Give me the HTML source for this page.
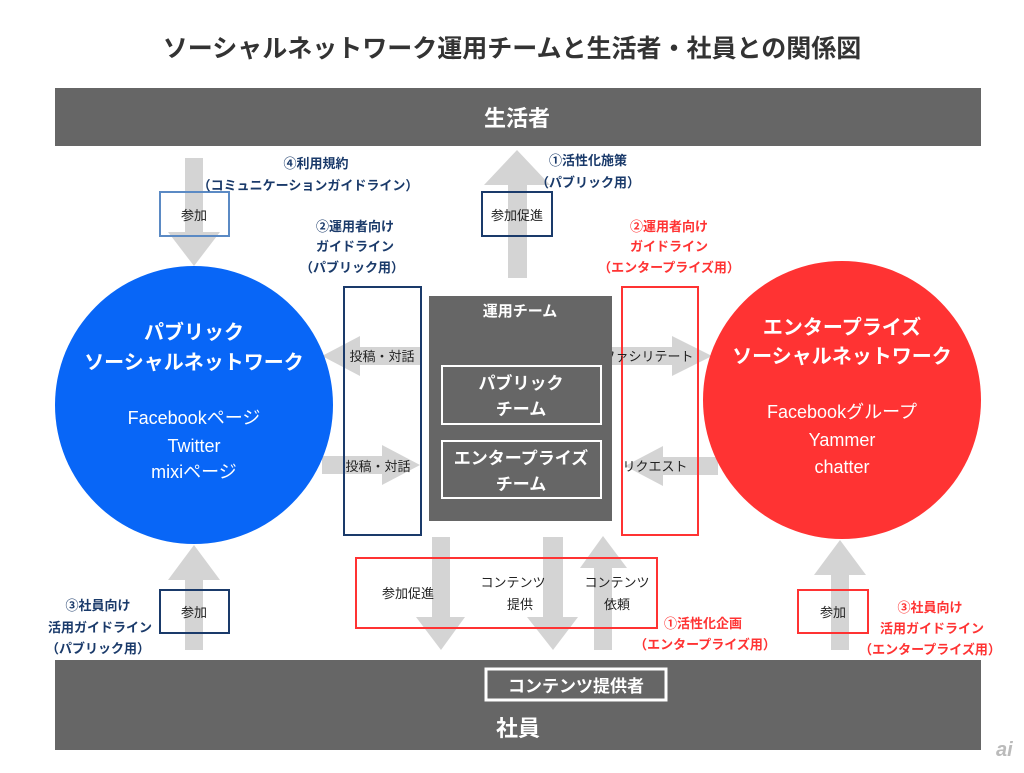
<!DOCTYPE html>
<html><head><meta charset="utf-8"><style>
html,body{margin:0;padding:0;background:#fff;}
svg text{font-family:"Liberation Sans","Noto Sans CJK JP",sans-serif;}
</style></head><body>
<svg width="1024" height="768" viewBox="0 0 1024 768" xmlns="http://www.w3.org/2000/svg">
<rect width="1024" height="768" fill="#fff"/>
<text x="512" y="57" font-size="25" font-weight="bold" fill="#333" text-anchor="middle">ソーシャルネットワーク運用チームと生活者・社員との関係図</text>
<rect x="55" y="88" width="926" height="58" fill="#666"/>
<text x="517" y="126" font-size="22" font-weight="bold" fill="#fff" text-anchor="middle">生活者</text>
<rect x="55" y="660" width="926" height="90" fill="#666"/>
<text x="518" y="736" font-size="22" font-weight="bold" fill="#fff" text-anchor="middle">社員</text>
<rect x="486" y="669" width="180" height="31" fill="#666" stroke="#fff" stroke-width="3"/>
<text x="576" y="692" font-size="17" font-weight="bold" fill="#fff" text-anchor="middle">コンテンツ提供者</text>

<g fill="#d4d4d4">
<polygon points="185,158 203,158 203,232 220,232 194,266 168,232 185,232"/>
<polygon points="517,150 550,185 527,185 527,278 508,278 508,185 484,185"/>
<polygon points="420,347 360,347 360,336 322,356 360,376 360,365 420,365"/>
<polygon points="322,456 382,456 382,445 420,465 382,485 382,474 322,474"/>
<polygon points="612,347 672,347 672,336 712,356 672,376 672,365 612,365"/>
<polygon points="718,457 663,457 663,446 625,466 663,486 663,475 718,475"/>
<polygon points="194,545 220,580 203,580 203,650 185,650 185,580 168,580"/>
<polygon points="840,540 866,575 849,575 849,650 831,650 831,575 814,575"/>
<polygon points="432,537 450,537 450,617 465,617 441,650 416,617 432,617"/>
<polygon points="543,537 563,537 563,617 578,617 553,650 527,617 543,617"/>
<polygon points="603,536 627,568 612,568 612,650 594,650 594,568 580,568"/>
</g>

<rect x="160" y="192" width="69" height="44" fill="none" stroke="#5b8ac4" stroke-width="2"/>
<text x="194" y="220" font-size="13" fill="#222" text-anchor="middle">参加</text>
<rect x="482" y="192" width="70" height="44" fill="none" stroke="#1a3a6a" stroke-width="2"/>
<text x="517" y="220" font-size="13" fill="#222" text-anchor="middle">参加促進</text>

<g font-size="13" font-weight="bold" fill="#1a3a6a" text-anchor="middle">
<text x="316" y="168">④利用規約</text>
<text x="308" y="190">（コミュニケーションガイドライン）</text>
<text x="355" y="231">②運用者向け</text>
<text x="355" y="251">ガイドライン</text>
<text x="352" y="272">（パブリック用）</text>
<text x="588" y="165">①活性化施策</text>
<text x="588" y="187">（パブリック用）</text>
<text x="98" y="610">③社員向け</text>
<text x="100" y="632">活用ガイドライン</text>
<text x="98" y="653">（パブリック用）</text>
</g>
<g font-size="13" font-weight="bold" fill="#ff3333" text-anchor="middle">
<text x="669" y="231">②運用者向け</text>
<text x="669" y="251">ガイドライン</text>
<text x="669" y="272">（エンタープライズ用）</text>
<text x="703" y="628">①活性化企画</text>
<text x="705" y="649">（エンタープライズ用）</text>
<text x="930" y="612">③社員向け</text>
<text x="932" y="633">活用ガイドライン</text>
<text x="930" y="654">（エンタープライズ用）</text>
</g>

<circle cx="194" cy="405" r="139" fill="#0866f7"/>
<text x="194" y="339" font-size="20" font-weight="bold" fill="#fff" text-anchor="middle">パブリック</text>
<text x="194" y="369" font-size="20" font-weight="bold" fill="#fff" text-anchor="middle">ソーシャルネットワーク</text>
<text x="194" y="424" font-size="18" fill="#fff" text-anchor="middle">Facebookページ</text>
<text x="194" y="452" font-size="18" fill="#fff" text-anchor="middle">Twitter</text>
<text x="194" y="478" font-size="18" fill="#fff" text-anchor="middle">mixiページ</text>

<circle cx="842" cy="400" r="139" fill="#ff3333"/>
<text x="842" y="334" font-size="20" font-weight="bold" fill="#fff" text-anchor="middle">エンタープライズ</text>
<text x="842" y="363" font-size="20" font-weight="bold" fill="#fff" text-anchor="middle">ソーシャルネットワーク</text>
<text x="842" y="418" font-size="18" fill="#fff" text-anchor="middle">Facebookグループ</text>
<text x="842" y="446" font-size="18" fill="#fff" text-anchor="middle">Yammer</text>
<text x="842" y="473" font-size="18" fill="#fff" text-anchor="middle">chatter</text>

<rect x="344" y="287" width="77" height="248" fill="none" stroke="#1a3a6a" stroke-width="2"/>
<rect x="622" y="287" width="76" height="248" fill="none" stroke="#ff3333" stroke-width="2"/>
<text x="382" y="361" font-size="13" fill="#222" text-anchor="middle">投稿・対話</text>
<text x="378" y="471" font-size="13" fill="#222" text-anchor="middle">投稿・対話</text>
<text x="648" y="361" font-size="13" fill="#222" text-anchor="middle">ファシリテート</text>
<text x="655" y="471" font-size="13" fill="#222" text-anchor="middle">リクエスト</text>

<rect x="429" y="296" width="183" height="225" fill="#666"/>
<text x="520" y="316" font-size="15" font-weight="bold" fill="#fff" text-anchor="middle">運用チーム</text>
<rect x="442" y="366" width="159" height="58" fill="none" stroke="#fff" stroke-width="2"/>
<text x="521" y="389" font-size="17" font-weight="bold" fill="#fff" text-anchor="middle">パブリック</text>
<text x="521" y="415" font-size="17" font-weight="bold" fill="#fff" text-anchor="middle">チーム</text>
<rect x="442" y="441" width="159" height="57" fill="none" stroke="#fff" stroke-width="2"/>
<text x="521" y="464" font-size="17" font-weight="bold" fill="#fff" text-anchor="middle">エンタープライズ</text>
<text x="521" y="490" font-size="17" font-weight="bold" fill="#fff" text-anchor="middle">チーム</text>

<rect x="356" y="558" width="301" height="70" fill="none" stroke="#ff3333" stroke-width="2"/>
<text x="408" y="598" font-size="13" fill="#222" text-anchor="middle">参加促進</text>
<text x="513" y="587" font-size="13" fill="#222" text-anchor="middle">コンテンツ</text>
<text x="520" y="609" font-size="13" fill="#222" text-anchor="middle">提供</text>
<text x="617" y="587" font-size="13" fill="#222" text-anchor="middle">コンテンツ</text>
<text x="617" y="609" font-size="13" fill="#222" text-anchor="middle">依頼</text>

<rect x="160" y="590" width="69" height="43" fill="none" stroke="#1a3a6a" stroke-width="2"/>
<text x="194" y="617" font-size="13" fill="#222" text-anchor="middle">参加</text>
<rect x="798" y="590" width="70" height="43" fill="none" stroke="#ff3333" stroke-width="2"/>
<text x="833" y="617" font-size="13" fill="#222" text-anchor="middle">参加</text>

<text x="996" y="756" font-size="20" font-style="italic" font-weight="bold" fill="#bbb">ai</text>
</svg>
</body></html>
